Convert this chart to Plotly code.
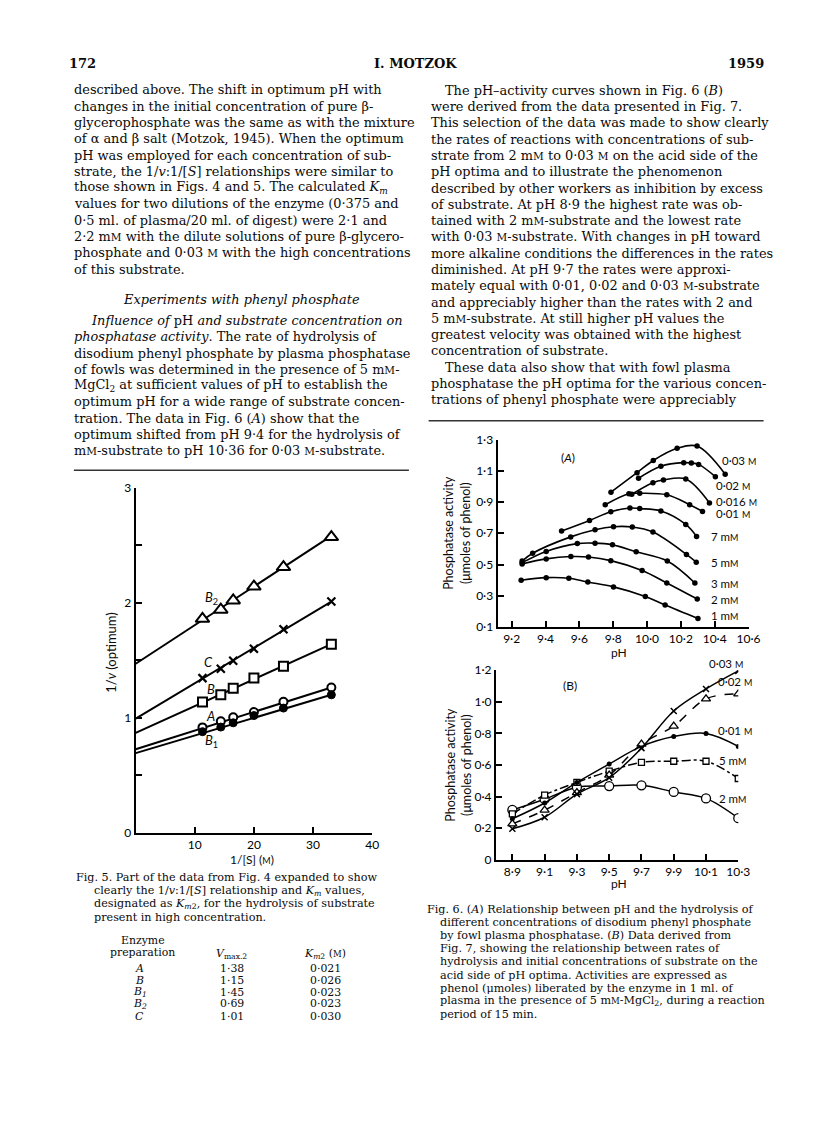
import plotly.graph_objects as go

W, H = 816, 1138

# ---------------- Fig. 5 data ----------------
inv_s = [11.3, 14.4, 16.5, 20.0, 25.0, 33.1]
y_B2 = [1.86, 1.94, 2.02, 2.14, 2.31, 2.57]
y_C = [1.345, 1.427, 1.496, 1.60, 1.77, 2.01]
y_B = [1.137, 1.20, 1.257, 1.346, 1.449, 1.64]
y_A = [0.917, 0.97, 1.006, 1.051, 1.14, 1.264]
y_B1 = [0.88, 0.92, 0.957, 1.02, 1.085, 1.20]
fit_x = [0.0, 33.1]
fit_B2 = [1.47, 2.58]
fit_C = [0.994, 2.01]
fit_B = [0.87, 1.64]
fit_A = [0.727, 1.264]
fit_B1 = [0.694, 1.20]

# table
enzyme_prep = ["A", "B", "B<sub>1</sub>", "B<sub>2</sub>", "C"]
vmax2 = ["1·38", "1·15", "1·45", "0·69", "1·01"]
km2 = ["0·021", "0·026", "0·023", "0·023", "0·030"]

# ---------------- Fig. 6A data ----------------
ph_1mM = [9.256, 9.404, 9.538, 9.650, 9.802, 9.990, 10.107, 10.301]
act_1mM = [0.399, 0.416, 0.412, 0.388, 0.357, 0.296, 0.241, 0.155]
ph_2mM = [9.262, 9.404, 9.550, 9.654, 9.786, 9.971, 10.117, 10.297]
act_2mM = [0.504, 0.536, 0.551, 0.548, 0.525, 0.462, 0.382, 0.279]
ph_3mM = [9.262, 9.404, 9.588, 9.693, 9.796, 9.936, 10.12, 10.283]
act_3mM = [0.512, 0.584, 0.634, 0.637, 0.626, 0.582, 0.523, 0.382]
ph_5mM = [9.262, 9.324, 9.549, 9.693, 9.802, 9.913, 10.035, 10.233, 10.291]
act_5mM = [0.522, 0.572, 0.677, 0.723, 0.742, 0.740, 0.708, 0.565, 0.515]
ph_7mM = [9.495, 9.66, 9.786, 9.899, 9.957, 10.082, 10.229, 10.293]
act_7mM = [0.714, 0.782, 0.838, 0.862, 0.858, 0.843, 0.757, 0.680]
ph_10mM = [9.753, 9.893, 9.957, 10.117, 10.252, 10.328]
act_10mM = [0.883, 0.953, 0.956, 0.946, 0.883, 0.840]
ph_16mM = [9.91, 10.035, 10.097, 10.229, 10.369]
act_16mM = [0.95, 1.024, 1.041, 1.047, 0.894]
ph_20mM = [9.950, 10.082, 10.217, 10.262, 10.305, 10.404]
act_20mM = [1.052, 1.129, 1.152, 1.150, 1.141, 1.062]
ph_30mM = [9.787, 9.941, 10.037, 10.178, 10.296, 10.462]
act_30mM = [0.963, 1.088, 1.166, 1.244, 1.258, 1.078]

# ---------------- Fig. 6B data ----------------
ph_b = [8.9, 9.1, 9.3, 9.5, 9.7, 9.9, 10.1, 10.3]
b_30mM = [0.197, 0.270, 0.416, 0.52, 0.707, 0.942, 1.081, 1.195]
b_20mM = [0.228, 0.315, 0.426, 0.536, 0.732, 0.846, 1.019, 1.05]
b_10mM = [0.26, 0.36, 0.49, 0.607, 0.718, 0.78, 0.80, 0.718]
b_5mM = [0.291, 0.41, 0.49, 0.561, 0.617, 0.624, 0.624, 0.515]
b_2mM = [0.316, 0.384, 0.46, 0.467, 0.472, 0.43, 0.389, 0.264]

# tick labels
ticks5_y = [0, 0.5, 1, 1.5, 2, 2.5, 3]
ticks5_ytext = ["0", "", "1", "", "2", "", "3"]
ticks5_x = [10, 20, 30, 40]
ticks6a_x = [9.2, 9.4, 9.6, 9.8, 10.0, 10.2, 10.4, 10.6]
ticks6a_xtext = ["9·2", "9·4", "9·6", "9·8", "10·0", "10·2", "10·4", "10·6"]
ticks6a_y = [0.1, 0.3, 0.5, 0.7, 0.9, 1.1, 1.3]
ticks6a_ytext = ["0·1", "0·3", "0·5", "0·7", "0·9", "1·1", "1·3"]
ticks6b_x = [8.9, 9.1, 9.3, 9.5, 9.7, 9.9, 10.1, 10.3]
ticks6b_xtext = ["8·9", "9·1", "9·3", "9·5", "9·7", "9·9", "10·1", "10·3"]
ticks6b_y = [0, 0.2, 0.4, 0.6, 0.8, 1.0, 1.2]
ticks6b_ytext = ["0", "0·2", "0·4", "0·6", "0·8", "1·0", "1·2"]


def px(x):
    return x / W


def py(y):
    return 1 - y / H


SC = "<span style='font-size:8.5px'>M</span>"
SCc = "<span style='font-size:9px'>M</span>"
SCt = "<span style='font-size:10.5px'>M</span>"

fig = go.Figure()
BLK = "black"

# ---- Fig 5 traces
for fy in [fit_B2, fit_C, fit_B, fit_A, fit_B1]:
    fig.add_trace(go.Scatter(x=fit_x, y=fy, mode="lines", line=dict(color=BLK, width=2),
                             xaxis="x", yaxis="y", showlegend=False, hoverinfo="skip"))
mk5 = [
    (y_B2, dict(symbol="triangle-up", size=12, color="white", line=dict(color=BLK, width=2))),
    (y_C, dict(symbol="x-thin", size=8, color=BLK, line=dict(color=BLK, width=2.2))),
    (y_B, dict(symbol="square", size=9, color="white", line=dict(color=BLK, width=2))),
    (y_A, dict(symbol="circle", size=8, color="white", line=dict(color=BLK, width=2))),
    (y_B1, dict(symbol="circle", size=8, color=BLK, line=dict(color=BLK, width=1))),
]
for yy, m in mk5:
    fig.add_trace(go.Scatter(x=inv_s, y=yy, mode="markers", marker=m,
                             xaxis="x", yaxis="y", showlegend=False))

# ---- Fig 6A traces
series_a = [(ph_1mM, act_1mM), (ph_2mM, act_2mM), (ph_3mM, act_3mM), (ph_5mM, act_5mM),
            (ph_7mM, act_7mM), (ph_10mM, act_10mM), (ph_16mM, act_16mM),
            (ph_20mM, act_20mM), (ph_30mM, act_30mM)]
for xs, ys in series_a:
    fig.add_trace(go.Scatter(x=xs, y=ys, mode="lines+markers",
                             line=dict(color=BLK, width=1.6, shape="spline", smoothing=1),
                             marker=dict(symbol="circle", size=5.5, color=BLK),
                             xaxis="x2", yaxis="y2", showlegend=False))

# ---- Fig 6B traces
series_b = [
    (b_2mM, "solid", dict(symbol="circle", size=9, color="white", line=dict(color=BLK, width=1.3))),
    (b_5mM, "dashdot", dict(symbol="square", size=6, color="white", line=dict(color=BLK, width=1.3))),
    (b_10mM, "solid", dict(symbol="circle", size=5, color=BLK)),
    (b_20mM, "dash", dict(symbol="triangle-up", size=8, color="white", line=dict(color=BLK, width=1.3))),
    (b_30mM, "solid", dict(symbol="x-thin", size=6, color=BLK, line=dict(color=BLK, width=1.5))),
]
for ys, dash, m in series_b:
    fig.add_trace(go.Scatter(x=ph_b, y=ys, mode="lines+markers",
                             line=dict(color=BLK, width=1.5, dash=dash, shape="spline", smoothing=1),
                             marker=m, xaxis="x3", yaxis="y3", showlegend=False))

axfont = dict(family="Lato", size=12, color=BLK)
common = dict(showline=True, linecolor=BLK, linewidth=2, ticks="inside", tickwidth=2,
              ticklen=6, tickcolor=BLK, showgrid=False, zeroline=False, tickfont=axfont,
              fixedrange=True)

fig.update_layout(
    width=W, height=H, autosize=False,
    margin=dict(l=0, r=0, t=0, b=0),
    paper_bgcolor="white", plot_bgcolor="rgba(0,0,0,0)",
    xaxis=dict(domain=[px(137.7), px(377.7)], range=[0, 40], tickvals=ticks5_x, anchor="y", **common),
    yaxis=dict(domain=[py(836), py(486)], range=[0, 3], tickvals=ticks5_y, ticktext=ticks5_ytext,
               anchor="x", **common),
    xaxis2=dict(domain=[px(505), px(759.7)], range=[9.1167, 10.6], tickvals=ticks6a_x,
                ticktext=ticks6a_xtext, anchor="y2", **common),
    yaxis2=dict(domain=[py(627.3), py(437.3)], range=[0.1, 1.3], tickvals=ticks6a_y,
                ticktext=ticks6a_ytext, anchor="x2", **common),
    xaxis3=dict(domain=[px(503.3), px(749.3)], range=[8.798, 10.3], tickvals=ticks6b_x,
                ticktext=ticks6b_xtext, anchor="y3", **common),
    yaxis3=dict(domain=[py(863.3), py(671)], range=[0, 1.2], tickvals=ticks6b_y,
                ticktext=ticks6b_ytext, anchor="x3", **common),
)

ann = []


def T(x, y, text, size=12, family="DejaVu Serif", xanchor="left", angle=0, color="#0a0a0a"):
    ann.append(dict(x=px(x), y=py(y), xref="paper", yref="paper", text=text, showarrow=False,
                    xanchor=xanchor, yanchor="middle", textangle=angle,
                    font=dict(family=family, size=size, color=color)))


SANS = "Lato"
LS = 11.5
# chart labels fig 5
T(215, 597.7, "<i>B</i><sub>2</sub>", 13, SANS, "center")
T(211.7, 662.7, "<i>C</i>", 13, SANS, "center")
T(214, 690, "<i>B</i>", 13, SANS, "center")
T(214, 717.7, "<i>A</i>", 13, SANS, "center")
T(215, 743, "<i>B</i><sub>1</sub>", 13, SANS, "center")
T(113, 653, "1/<i>v</i> (optimum)", 13, SANS, "center", -90)
T(256, 862.7, "1/[S] (" + SCc + ")", 12, SANS, "center")

# fig 6A labels
T(576.7, 455, "(<i>A</i>)", 12, SANS, "center")
T(731, 458.3, "0·03 " + SCc, LS, SANS)
T(725, 484.3, "0·02 " + SCc, LS, SANS)
T(725, 500, "0·016 " + SCc, LS, SANS)
T(725, 512.5, "0·01 " + SCc, LS, SANS)
T(720, 536, "7 m" + SCc, LS, SANS)
T(720, 561.7, "5 m" + SCc, LS, SANS)
T(720, 583.3, "3 m" + SCc, LS, SANS)
T(720, 599, "2 m" + SCc, LS, SANS)
T(720, 615.7, "1 m" + SCc, LS, SANS)
T(464, 531.7, "Phosphatase activity<br>(μmoles of phenol)", 12.5, SANS, "center", -90)
T(628, 653, "pH", 12, SANS, "center")

# fig 6B labels
T(578.3, 686.7, "(B)", 12, SANS, "center")
T(737, 664, "0·03 " + SCc, LS, SANS, "center")
T(746, 683, "0·02 " + SCc, LS, SANS, "center")
T(745.5, 731.7, "0·01 " + SCc, LS, SANS, "center")
T(743, 762.7, "5 m" + SCc, LS, SANS, "center")
T(743, 800.7, "2 m" + SCc, LS, SANS, "center")
T(465, 766.7, "Phosphatase activity<br>(μmoles of phenol)", 12.5, SANS, "center", -90)
T(628, 887, "pH", 12, SANS, "center")

# header
T(68, 56.7, "<b>172</b>", 13)
T(421.5, 56.7, "<b>I. MOTZOK</b>", 13, xanchor="center")
T(777, 56.7, "<b>1959</b>", 13, xanchor="right")

BODY = 12.9
left_a = [
    "described above. The shift in optimum pH with",
    "changes in the initial concentration of pure β-",
    "glycerophosphate was the same as with the mixture",
    "of α and β salt (Motzok, 1945). When the optimum",
    "pH was employed for each concentration of sub-",
    "strate, the 1/<i>v</i>:1/[<i>S</i>] relationships were similar to",
    "those shown in Figs. 4 and 5. The calculated <i>K<sub>m</sub></i>",
    "values for two dilutions of the enzyme (0·375 and",
    "0·5 ml. of plasma/20 ml. of digest) were 2·1 and",
    "2·2 m" + SCt + " with the dilute solutions of pure β-glycero-",
    "phosphate and 0·03 " + SCt + " with the high concentrations",
    "of this substrate.",
]
for i, t in enumerate(left_a):
    T(73.3, 83 + 16.5 * i, t, BODY)
T(245, 295, "<i>Experiments with phenyl phosphate</i>", BODY, xanchor="center")
left_b = [
    "<i>Influence of</i> pH <i>and substrate concentration on</i>",
    "<i>phosphatase activity</i>. The rate of hydrolysis of",
    "disodium phenyl phosphate by plasma phosphatase",
    "of fowls was determined in the presence of 5 m" + SCt + "-",
    "MgCl<sub>2</sub> at sufficient values of pH to establish the",
    "optimum pH for a wide range of substrate concen-",
    "tration. The data in Fig. 6 (<i>A</i>) show that the",
    "optimum shifted from pH 9·4 for the hydrolysis of",
    "m" + SCt + "-substrate to pH 10·36 for 0·03 " + SCt + "-substrate.",
]
for i, t in enumerate(left_b):
    T(90 if i == 0 else 73.3, 316.7 + 16.5 * i, t, BODY)

right = [
    "The pH–activity curves shown in Fig. 6 (<i>B</i>)",
    "were derived from the data presented in Fig. 7.",
    "This selection of the data was made to show clearly",
    "the rates of reactions with concentrations of sub-",
    "strate from 2 m" + SCt + " to 0·03 " + SCt + " on the acid side of the",
    "pH optima and to illustrate the phenomenon",
    "described by other workers as inhibition by excess",
    "of substrate. At pH 8·9 the highest rate was ob-",
    "tained with 2 m" + SCt + "-substrate and the lowest rate",
    "with 0·03 " + SCt + "-substrate. With changes in pH toward",
    "more alkaline conditions the differences in the rates",
    "diminished. At pH 9·7 the rates were approxi-",
    "mately equal with 0·01, 0·02 and 0·03 " + SCt + "-substrate",
    "and appreciably higher than the rates with 2 and",
    "5 m" + SCt + "-substrate. At still higher pH values the",
    "greatest velocity was obtained with the highest",
    "concentration of substrate.",
    "These data also show that with fowl plasma",
    "phosphatase the pH optima for the various concen-",
    "trations of phenyl phosphate were appreciably",
]
for i, t in enumerate(right):
    T(450 if i in (0, 17) else 435, 83.5 + 16.5 * i, t, BODY)

# captions
CAP = 11.2
cap5 = [
    "Fig. 5. Part of the data from Fig. 4 expanded to show",
    "clearly the 1/<i>v</i>:1/[<i>S</i>] relationship and <i>K<sub>m</sub></i> values,",
    "designated as <i>K<sub>m</sub></i><sub>2</sub>, for the hydrolysis of substrate",
    "present in high concentration.",
]
for i, t in enumerate(cap5):
    T(75 if i == 0 else 93.3, 881 + 13.5 * i, t, CAP)

TAB = 10.9
T(145, 944.5, "Enzyme", TAB, xanchor="center")
T(145, 957, "preparation", TAB, xanchor="center")
T(235, 958.7, "<i>V</i><sub>max.2</sub>", TAB, xanchor="center")
T(330, 958.7, "<i>K<sub>m</sub></i><sub>2</sub> (" + SC + ")", TAB, xanchor="center")
row_y = [973.3, 985.7, 997.3, 1009.3, 1021.7]
for i in range(len(enzyme_prep)):
    T(141.7, row_y[i], "<i>" + enzyme_prep[i] + "</i>", TAB, xanchor="center")
    T(235, row_y[i], vmax2[i], TAB, xanchor="center")
    T(330, row_y[i], km2[i], TAB, xanchor="center")

cap6 = [
    "Fig. 6. (<i>A</i>) Relationship between pH and the hydrolysis of",
    "different concentrations of disodium phenyl phosphate",
    "by fowl plasma phosphatase. (<i>B</i>) Data derived from",
    "Fig. 7, showing the relationship between rates of",
    "hydrolysis and initial concentrations of substrate on the",
    "acid side of pH optima. Activities are expressed as",
    "phenol (μmoles) liberated by the enzyme in 1 ml. of",
    "plasma in the presence of 5 m" + SC + "-MgCl<sub>2</sub>, during a reaction",
    "period of 15 min.",
]
for i, t in enumerate(cap6):
    T(431.7 if i == 0 else 445, 913.3 + 13.35 * i, t, CAP)

fig.update_layout(annotations=ann)

# rules under text columns
fig.add_shape(type="line", xref="paper", yref="paper", x0=px(75), x1=px(415), y0=py(468.3), y1=py(468.3),
              line=dict(color="#333", width=1.5))
fig.add_shape(type="line", xref="paper", yref="paper", x0=px(435), x1=px(775), y0=py(418.3), y1=py(418.3),
              line=dict(color="#333", width=1.5))

fig.write_html("out.html", config={"displayModeBar": False, "staticPlot": True},
               post_script="document.body.style.margin='0';document.body.style.overflow='hidden';")
